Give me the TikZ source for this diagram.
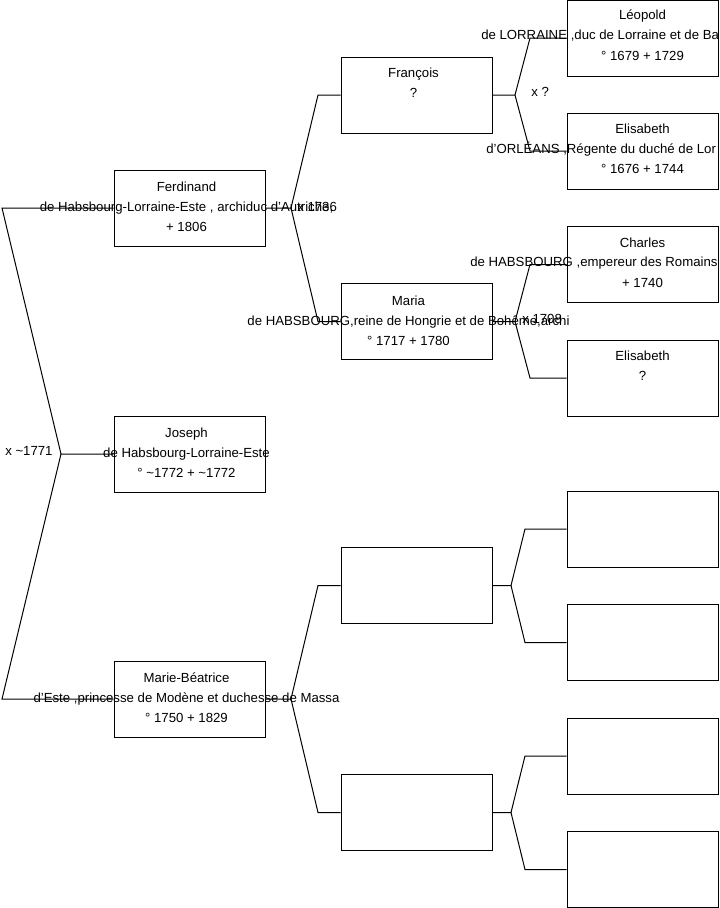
\documentclass[tikz,border=0pt]{standalone}
\usepackage{fontspec}
\setmainfont{Liberation Sans}
\begin{document}
\begin{tikzpicture}[x=0.75pt,y=-0.75pt,
  box/.style={draw=black,line width=0.75pt,minimum width=113.25pt,minimum height=57pt,inner sep=0pt},
  txt/.style={align=center,font=\fontsize{9.9}{15}\selectfont,inner sep=0pt},
  lbl/.style={font=\fontsize{9.9}{15}\selectfont,inner sep=0pt},
  link/.style={draw=black,line width=0.75pt}]
\useasboundingbox (0,0) rectangle (719,908);
% boxes column 1
\node[box] (fer) at (189.5,208) {};
\node[box] (jos) at (189.5,454) {};
\node[box] (mb)  at (189.5,699) {};
% column 2
\node[box] (fra) at (416.5,95) {};
\node[box] (mar) at (416.5,321.5) {};
\node[box] (ea)  at (416.5,585.5) {};
\node[box] (eb)  at (416.5,812.5) {};
% column 3
\node[box] (leo)  at (642.5,38) {};
\node[box] (eli)  at (642.5,151) {};
\node[box] (cha)  at (642.5,264.5) {};
\node[box] (eli2) at (642.5,378) {};
\node[box] (e3)   at (642.5,529) {};
\node[box] (e4)   at (642.5,642.5) {};
\node[box] (e5)   at (642.5,756) {};
\node[box] (e6)   at (642.5,869.5) {};
% fork coordinates
\coordinate (rt) at (2,208);
\coordinate (rf) at (61,454);
\coordinate (rb) at (2,699);
\coordinate (ff) at (291,208);
\coordinate (ft) at (318,95);
\coordinate (fb) at (318,321.5);
\coordinate (mf) at (291,699);
\coordinate (mt) at (318,585.5);
\coordinate (mbb) at (318,812.5);
\coordinate (af) at (515,95);
\coordinate (at1) at (530,38);
\coordinate (ab1) at (530,151);
\coordinate (bf) at (515,321.5);
\coordinate (bt) at (530,264.5);
\coordinate (bb) at (530,378);
\coordinate (cf) at (511,585.5);
\coordinate (ct) at (525,529);
\coordinate (cb) at (525,642.5);
\coordinate (df) at (511,812.5);
\coordinate (dt) at (525,756);
\coordinate (db) at (525,869.5);
% connectors
\draw[link] (fer.west) -- (rt) -- (rf) -- (jos.west);
\draw[link] (rf) -- (rb) -- (mb.west);
\draw[link] (fer.east) -- (ff) -- (ft) -- (fra.west);
\draw[link] (ff) -- (fb) -- (mar.west);
\draw[link] (mb.east) -- (mf) -- (mt) -- (ea.west);
\draw[link] (mf) -- (mbb) -- (eb.west);
\draw[link] (fra.east) -- (af) -- (at1) -- (leo.west);
\draw[link] (af) -- (ab1) -- (eli.west);
\draw[link] (mar.east) -- (bf) -- (bt) -- (cha.west);
\draw[link] (bf) -- (bb) -- (eli2.west);
\draw[link] (ea.east) -- (cf) -- (ct) -- (e3.west);
\draw[link] (cf) -- (cb) -- (e4.west);
\draw[link] (eb.east) -- (df) -- (dt) -- (e5.west);
\draw[link] (df) -- (db) -- (e6.west);
% texts column 1 and 2
\node[txt] (ferT) at ([shift={(-3,-1)}]fer.center) {Ferdinand\\de Habsbourg-Lorraine-Este , archiduc d'Autriche,\\+ 1806};
\node[txt] (josT) at ([shift={(-3,-1)}]jos.center) {Joseph\\de Habsbourg-Lorraine-Este\\° \textasciitilde1772 + \textasciitilde1772};
\node[txt] (mbT) at ([shift={(-3,-1)}]mb.center) {Marie-Béatrice\\d'Este ,princesse de Modène et duchesse de Massa\\° 1750 + 1829};
\node[txt] (fraT) at ([shift={(-3,-12)}]fra.center) {François\\?};
\node[txt] (marT) at ([shift={(-8,-1)}]mar.center) {Maria\\de HABSBOURG,reine de Hongrie et de Bohême,archi\\° 1717 + 1780};
% texts column 3
\node[lbl] (leoA) at (642.5,16) {Léopold};
\node[lbl,anchor=west] (leoB) at (481,36) {de LORRAINE ,duc de Lorraine et de Ba};
\node[lbl] (leoC) at (642.5,56) {° 1679 + 1729};
\node[lbl] (eliA) at (642.5,129) {Elisabeth};
\node[lbl,anchor=west] (eliB) at (486,149) {d'ORLÉANS ,Régente du duché de Lor};
\node[lbl] (eliC) at (642.5,169) {° 1676 + 1744};
\node[lbl] (chaA) at (642.5,243) {Charles};
\node[lbl,anchor=west] (chaB) at (470,263) {de HABSBOURG ,empereur des Romains};
\node[lbl] (chaC) at (642.5,283) {+ 1740};
\node[lbl] (eli2A) at (642.5,356) {Elisabeth};
\node[lbl] (eli2B) at (642.5,376) {?};
% marriage labels
\node[lbl,anchor=west] (m1) at (5,451) {x \textasciitilde1771};
\node[lbl,anchor=west] (m2) at (297,207) {x 1736};
\node[lbl,anchor=west] (m3) at (531,92) {x ?};
\node[lbl,anchor=west] (m4) at (522,319) {x 1708};
\end{tikzpicture}
\end{document}
